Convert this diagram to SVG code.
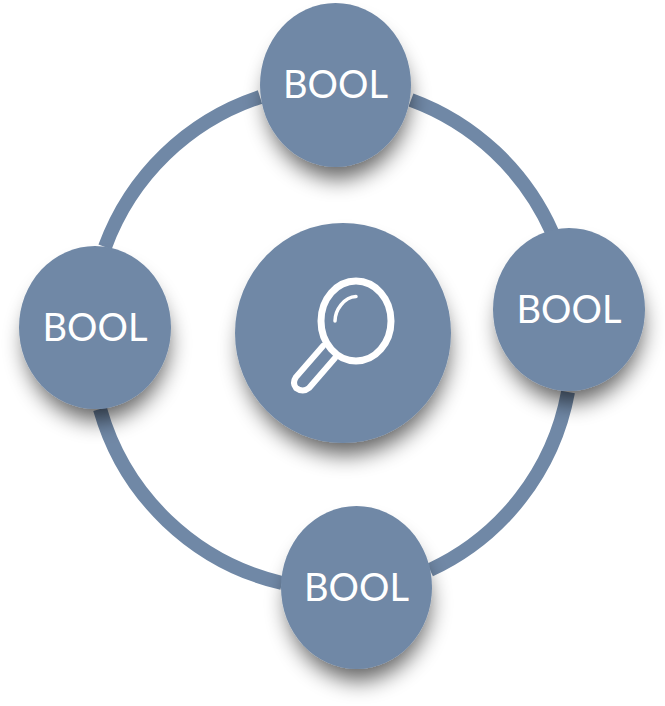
<svg xmlns="http://www.w3.org/2000/svg" width="665" height="706" viewBox="0 0 665 706">
<style>
.n{fill:#7088a6;filter:url(#s)}
.t{fill:#fff;font-family:"Lato","Liberation Sans",sans-serif;font-size:38px;text-anchor:middle}
.c{fill:none;stroke:#7088a6;stroke-width:14}
.i{fill:none;stroke:#fff;stroke-linecap:round}
</style>
<defs><filter id="s" x="-40%" y="-40%" width="180%" height="190%"><feMorphology in="SourceAlpha" operator="erode" radius="4"/><feOffset dx="2" dy="16"/><feGaussianBlur stdDeviation="11"/><feComponentTransfer result="b"><feFuncA type="linear" slope="0.62"/></feComponentTransfer><feMerge><feMergeNode in="b"/><feMergeNode in="SourceGraphic"/></feMerge></filter></defs>
<g id="connectors">
<path class="c" d="M260 97A248 248 0 0 0 105 247"/>
<path class="c" d="M411 100A248 248 0 0 1 552 232"/>
<path class="c" d="M568 392A245 245 0 0 1 430 570"/>
<path class="c" d="M282 583A248 248 0 0 1 100 409"/>
</g>
<g id="center"><ellipse class="n" cx="343" cy="333" rx="108" ry="110"/>
<g id="magnifier"><ellipse class="i" cx="356" cy="321" rx="35" ry="40" stroke-width="7"/>
<path class="i" stroke-width="3.5" d="M335 321C335 310 344 297 356 296.500"/>
<path class="i" stroke-width="6" d="M323 346L296 377Q292 383 296 388Q303 393 309 388L335 358"/></g></g>
<g id="node-top"><ellipse class="n" cx="335.500" cy="85" rx="75.500" ry="82"/><text class="t" x="335.500" y="98">BOOL</text></g>
<g id="node-right"><ellipse class="n" cx="569" cy="309.500" rx="76" ry="81.500"/><text class="t" x="569" y="323">BOOL</text></g>
<g id="node-left"><ellipse class="n" cx="95" cy="327.500" rx="76" ry="81.500"/><text class="t" x="95" y="341">BOOL</text></g>
<g id="node-bottom"><ellipse class="n" cx="356.500" cy="587.500" rx="75.500" ry="81.500"/><text class="t" x="356.500" y="601">BOOL</text></g>
</svg>
